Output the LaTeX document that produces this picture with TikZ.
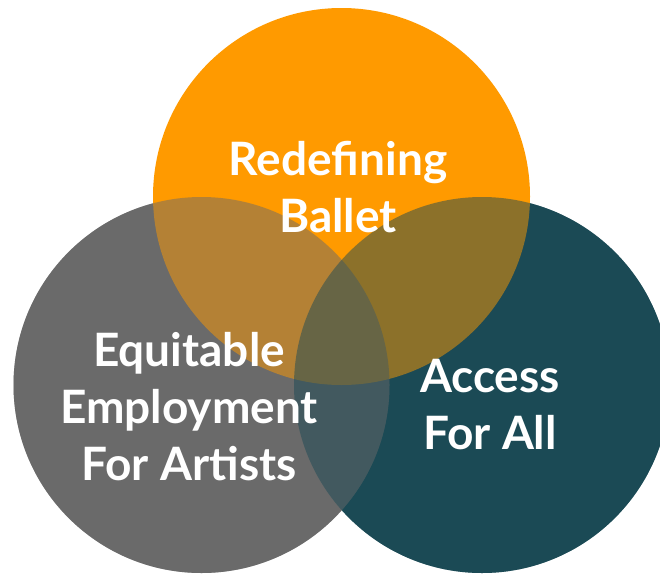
\documentclass[tikz,border=0pt]{standalone}
\usepackage{fontspec}
\setmainfont{Lato}
\definecolor{balletorange}{HTML}{FF9A00}
\definecolor{artistgray}{HTML}{6A6A6A}
\definecolor{accessteal}{HTML}{1B4A55}

\begin{document}
\begin{tikzpicture}[
    x=1pt, y=-1pt,
    venntext/.style={text=white, font=\fontsize{46}{57}\selectfont\bfseries,
        align=center, inner sep=0pt, anchor=base},
    halfshade/.style={fill opacity=0.5}
]
\useasboundingbox (0,0) rectangle (660,573);

\coordinate (Top) at (341.5,196.5);
\coordinate (Left) at (201.5,385);
\coordinate (Right) at (482,385);

% solid discs first, then the see-through layers for the overlaps
\fill[accessteal] (Right) circle (188);
\fill[artistgray] (Left) circle (188);
\fill[balletorange] (Top) circle (188.5);
\fill[artistgray, halfshade] (Left) circle (188);
\fill[accessteal, halfshade] (Right) circle (188);

% base anchor sits on the last line
\node (Ballet) [venntext] at (338,232) {Redefining\\Ballet};
\node (Artists) [venntext] at (189,480) {Equitable\\Employment\\For Artists};
\node (Access) [venntext] at (490,449) {Access\\For All};

\end{tikzpicture}
\end{document}
